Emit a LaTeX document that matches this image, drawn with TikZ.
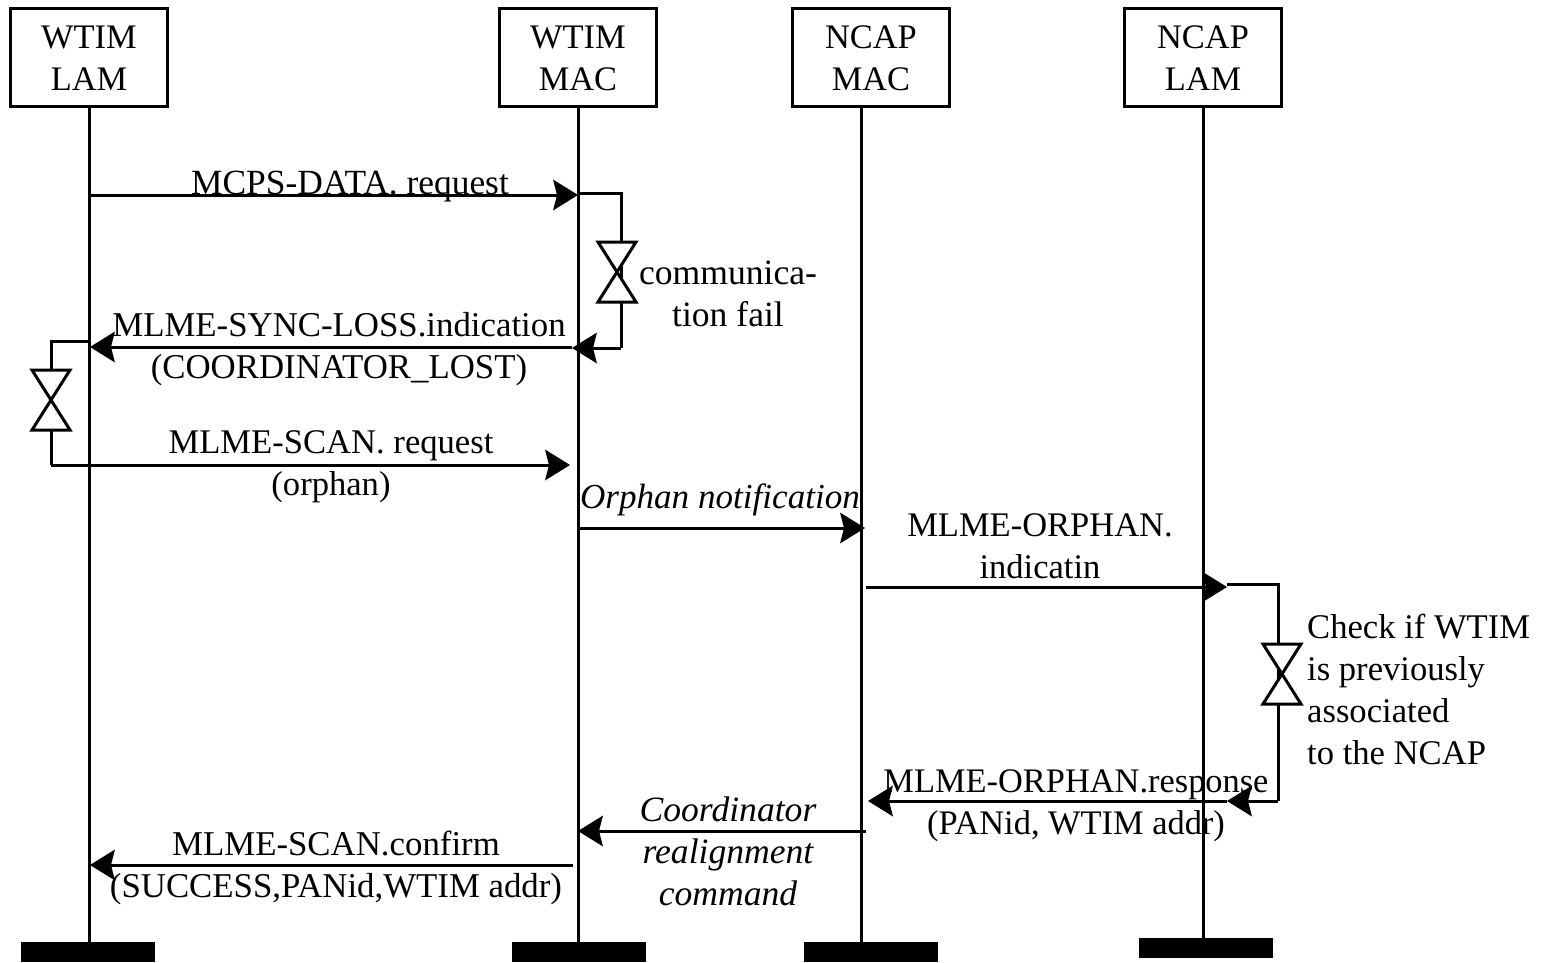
\documentclass[tikz,border=0pt]{standalone}
\usepackage{fontspec}
\setmainfont{Liberation Serif}
\usetikzlibrary{arrows.meta}
\tikzset{
 x=1pt,y=-1pt,
 head/.style={draw=black,line width=3pt,fill=white,minimum width=156.5pt,minimum height=98pt,align=center,inner sep=0pt,font=\fontsize{34.4}{42}\selectfont},
 foot/.style={fill=black,minimum width=134pt,minimum height=20pt,inner sep=0pt},
 life/.style={line width=3pt},
 msg/.style={line width=3pt,-{Stealth[length=25pt,width=31pt,inset=4pt,line width=0pt]}},
 lnk/.style={line width=3pt},
 lab/.style={align=center,inner sep=0pt},
 fs/.style={font=\fontsize{#1}{42}\selectfont},
 fsi/.style={font=\fontsize{#1}{42}\selectfont\itshape},
 glass/.style={line width=3pt,fill=white},
 hg/.pic={\draw[glass] (-19,-30)--(19,-30)--(-19,30)--(19,30)--cycle;}
}
\begin{document}
\begin{tikzpicture}
\useasboundingbox (0,0) rectangle (1545,963);
\node[head] (h1) at (89,58) {WTIM\\LAM};
\node[head] (h2) at (578,58) {WTIM\\MAC};
\node[head] (h3) at (871,58) {NCAP\\MAC};
\node[head] (h4) at (1203,58) {NCAP\\LAM};
\node[foot] (f1) at (88,952) {};
\node[foot] (f2) at (579,952) {};
\node[foot] (f3) at (871,952) {};
\node[foot] (f4) at (1206,948) {};
\draw[life] (h1) -- (89,942);
\draw[life] (h2) -- (578,942);
\draw[life] (861,107) -- (861,942);
\draw[life] (h4) -- (1203,938);
\coordinate (a1) at (90,195); \coordinate (a2) at (578,195);
\draw[msg] (a1) -- (a2);
\node[lab,fs=35.4] (t1) at (350,187) {MCPS-DATA. request};
\coordinate (b1) at (578,193); \coordinate (b2) at (621,193); \coordinate (b3) at (621,348); \coordinate (b4) at (572,348);
\draw[lnk] (b1) -- (b2) -- (b3);
\draw[msg] (b3) -- (b4);
\pic at (617,272) {hg};
\node[lab,fs=35.6] (t2) at (728,294) {communica-\\tion fail};
\coordinate (c1) at (572,347); \coordinate (c2) at (90,347);
\draw[msg] (c1) -- (c2);
\node[lab,fs=34.8] (t3) at (339,349) {MLME-SYNC-LOSS.indication\\(COORDINATOR\_LOST)};
\coordinate (d1) at (90,341); \coordinate (d2) at (51,341); \coordinate (d3) at (51,465); \coordinate (d4) at (570,465);
\draw[lnk] (d1) -- (d2) -- (d3);
\draw[msg] (d3) -- (d4);
\pic at (51,400) {hg};
\node[lab,fs=34.6] (t4) at (331,467) {MLME-SCAN. request\\(orphan)};
\coordinate (e1) at (578,528); \coordinate (e2) at (865,528);
\draw[msg] (e1) -- (e2);
\node[lab,fsi=35.1] (t5) at (720,500) {Orphan notification};
\coordinate (g1) at (866,587); \coordinate (g2) at (1227,587);
\draw[msg] (g1) -- (g2);
\node[lab,fs=34.5] (t6) at (1040,546) {MLME-ORPHAN.\\indicatin};
\coordinate (k1) at (1227,584); \coordinate (k2) at (1278,584); \coordinate (k3) at (1278,801); \coordinate (k4) at (1227,801);
\draw[lnk] (k1) -- (k2) -- (k3);
\draw[msg] (k3) -- (k4);
\pic at (1282,674) {hg};
\node[lab,fs=34.6,align=left,anchor=west] (t7) at (1307,689) {Check if WTIM\\is previously\\associated\\to the NCAP};
\coordinate (m1) at (1227,801); \coordinate (m2) at (868,801);
\draw[msg] (m1) -- (m2);
\node[lab,fs=34.4] (t8) at (1076,805.5) {MLME-ORPHAN.response\\(PANid, WTIM addr)};
\coordinate (n1) at (866,831); \coordinate (n2) at (578,831);
\draw[msg] (n1) -- (n2);
\node[lab,fsi=35.6] (t9) at (728,851) {Coordinator\\realignment\\command};
\coordinate (p1) at (573,865); \coordinate (p2) at (90,865);
\draw[msg] (p1) -- (p2);
\node[lab,fs=34.8] (t10) at (336,868) {MLME-SCAN.confirm\\(SUCCESS,PANid,WTIM addr)};
\end{tikzpicture}
\end{document}
